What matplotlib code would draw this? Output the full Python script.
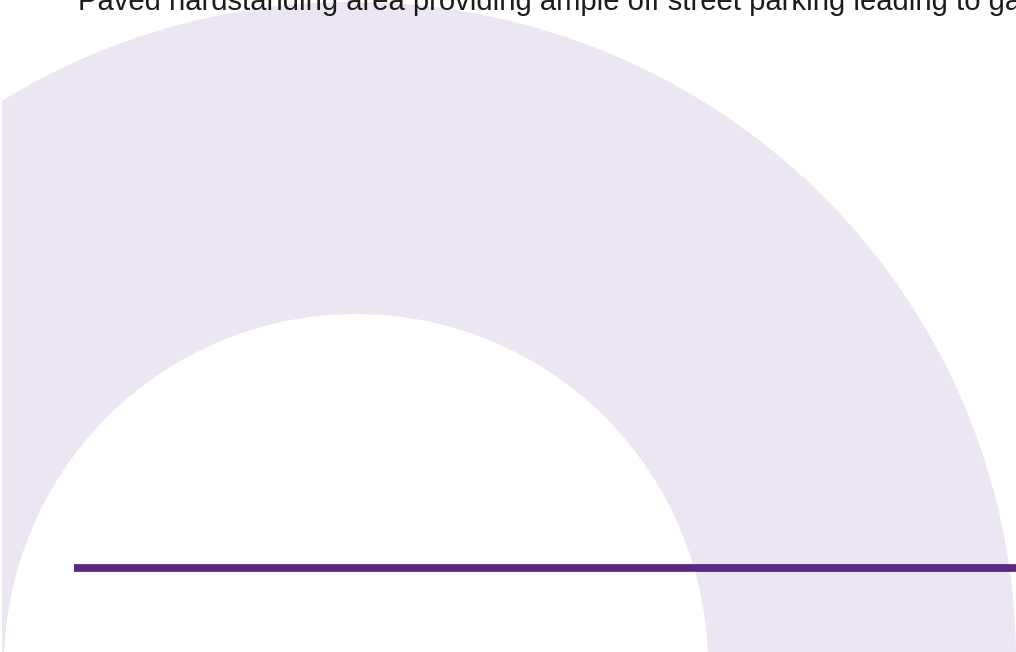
import matplotlib
matplotlib.use("Agg")
import matplotlib.pyplot as plt
from matplotlib.patches import Ellipse, Rectangle

# Content
caption = "Paved hardstanding area providing ample off street parking leading to garage"
ring_colour = "#ebe6f1"
rule_colour = "#5a2781"

# Geometry (pixel space of the 1016x652 picture)
outer_centre = [352, 660]
outer_size = [1328, 1316]
inner_centre = [356, 666]
inner_size = [704, 704]
rule_x = [74, 1016]
rule_y = [568, 568]

W, H = 1016, 652
fig = plt.figure(figsize=(W / 100, H / 100), dpi=100)
ax = fig.add_axes([0, 0, 1, 1])
ax.set_xlim(0, W)
ax.set_ylim(H, 0)
ax.axis("off")

ax.add_patch(Ellipse(outer_centre, outer_size[0], outer_size[1],
                     facecolor=ring_colour, edgecolor="none", zorder=1))
ax.add_patch(Ellipse(inner_centre, inner_size[0], inner_size[1],
                     facecolor="white", edgecolor="none", zorder=2))
ax.add_patch(Rectangle((0, 0), 2, H, facecolor="white", edgecolor="none", zorder=3))

ax.plot(rule_x, rule_y, color=rule_colour, linewidth=5.6, solid_capstyle="butt", zorder=4)

ax.text(78, 10.5, caption, fontsize=21.1, family="Liberation Sans", color="#1c1c1c",
        va="baseline", ha="left", zorder=5, clip_on=True)

fig.savefig("out.png", dpi=100)
